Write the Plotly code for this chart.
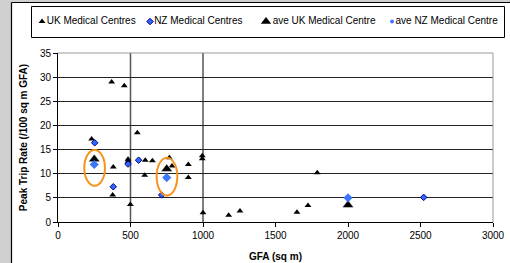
import plotly.graph_objects as go

# ---- data ----
uk_gfa = [232, 253, 370, 457, 547, 381, 377, 499, 483, 483, 602, 651, 598, 768, 786, 899, 899, 995, 995, 1000, 1177, 1255, 1648, 1724, 1788]
uk_rate = [17.2, 13.2, 29.0, 28.2, 18.5, 11.4, 5.6, 3.6, 13.0, 12.6, 12.8, 12.7, 9.7, 13.3, 11.6, 11.9, 9.2, 13.7, 13.1, 1.9, 1.4, 2.3, 2.0, 3.4, 10.2]

nz_gfa = [253, 381, 483, 556, 715, 2522]
nz_rate = [16.4, 7.3, 12.0, 12.8, 5.6, 5.1]

ave_uk_gfa = [250, 750, 2000]
ave_uk_rate = [13.0, 11.0, 3.5]

ave_nz_gfa = [250, 750, 2000]
ave_nz_rate = [11.9, 9.2, 5.0]

series_names = ["UK Medical Centres", "NZ Medical Centres", "ave UK Medical Centre", "ave NZ Medical Centre"]

x_ticks = [0, 500, 1000, 1500, 2000, 2500, 3000]
y_ticks = [0, 5, 10, 15, 20, 25, 30, 35]

divider_x = [500, 1000]
# highlight ellipses: (x0, x1, y0, y1)
highlights = [(181, 324, 7.5, 14.9), (680, 823, 5.5, 13.3)]

FONT = "Arial, Liberation Sans, sans-serif"
W, H = 510, 263


def px(xp):
    return xp / W


def py(yp):
    return 1 - yp / H


# plot area in pixels
PL, PR, PT, PB = 58, 493, 53, 222
# legend box in pixels
LL, LR, LT, LB = 31, 504, 6, 37

styles = [
    dict(symbol="triangle-up", size=6, color="black"),
    dict(symbol="diamond", size=5, color="#3366FF", line=dict(color="#000080", width=1)),
    dict(symbol="triangle-up", size=10, color="black", line=dict(color="white", width=0.5)),
    dict(symbol="diamond", size=7, color="#3C78FF"),
]
legend_styles = [
    dict(symbol="triangle-up", size=6, color="black"),
    dict(symbol="diamond", size=5, color="#3366FF", line=dict(color="#000080", width=1)),
    dict(symbol="triangle-up", size=9, color="black"),
    dict(symbol="circle", size=4, color="#3C78FF"),
]
legend_pos = [42, 150, 266, 392]  # marker centres (pixel), layout only

fig = go.Figure()
for name, xs, ys, st in zip(series_names, [uk_gfa, nz_gfa, ave_uk_gfa, ave_nz_gfa],
                            [uk_rate, nz_rate, ave_uk_rate, ave_nz_rate], styles):
    fig.add_trace(go.Scatter(x=xs, y=ys, mode="markers", name=name, marker=st, showlegend=False))

# legend entries drawn on a helper axis spanning the legend box (pixel units)
for name, lp, st in zip(series_names, legend_pos, legend_styles):
    fig.add_trace(go.Scatter(x=[lp - LL], y=[0.5], mode="markers+text", text=[name],
                             textposition="middle right", textfont=dict(size=10, family=FONT, color="black"),
                             marker=st, xaxis="x2", yaxis="y2", showlegend=False, hoverinfo="skip",
                             cliponaxis=False))

shapes = []
# outer frame: gray strips and black border
shapes.append(dict(type="rect", xref="paper", yref="paper", x0=0, x1=px(11),
                   y0=0, y1=1, fillcolor="#D0D0D0", line=dict(width=0), layer="below"))
shapes.append(dict(type="rect", xref="paper", yref="paper", x0=0, x1=1,
                   y0=py(2), y1=1, fillcolor="#D0D0D0", line=dict(width=0), layer="below"))
shapes.append(dict(type="line", xref="paper", yref="paper", x0=px(11.5), x1=px(11.5),
                   y0=0, y1=py(2.5), line=dict(color="black", width=1.2)))
shapes.append(dict(type="line", xref="paper", yref="paper", x0=px(11.5), x1=1,
                   y0=py(2.5), y1=py(2.5), line=dict(color="black", width=1.2)))
# legend box
shapes.append(dict(type="rect", xref="paper", yref="paper", x0=px(LL + 0.5), x1=px(LR + 0.5),
                   y0=py(LB + 0.5), y1=py(LT + 0.5), line=dict(color="black", width=1),
                   fillcolor="rgba(0,0,0,0)"))
# plot area gray top/right border
shapes.append(dict(type="line", xref="paper", yref="paper", x0=px(PR), x1=px(PR),
                   y0=py(PB), y1=py(PT), line=dict(color="#999999", width=1)))
shapes.append(dict(type="line", xref="paper", yref="paper", x0=px(PL), x1=px(PR),
                   y0=py(PT), y1=py(PT), line=dict(color="#999999", width=1)))
for xv in divider_x:
    shapes.append(dict(type="line", xref="x", yref="y", x0=xv, x1=xv, y0=0, y1=35,
                       line=dict(color="#555555", width=1.5), layer="below"))
for (x0, x1, y0, y1) in highlights:
    shapes.append(dict(type="circle", xref="x", yref="y", x0=x0, x1=x1, y0=y0, y1=y1,
                       line=dict(color="#F7941D", width=2)))

fig.update_layout(
    width=W, height=H,
    margin=dict(l=0, r=0, t=0, b=0, pad=0, autoexpand=False),
    paper_bgcolor="white", plot_bgcolor="white",
    font=dict(family=FONT, size=10, color="black"),
    shapes=shapes,
    showlegend=False,
    xaxis=dict(domain=[px(PL), px(PR)], range=[0, 3000], tickvals=x_ticks, showgrid=False, zeroline=False,
               showline=True, linecolor="black", linewidth=1, mirror=False,
               ticks="outside", ticklen=4, tickcolor="black", automargin=False,
               tickfont=dict(size=10),
               title=dict(text="<b>GFA (sq m)</b>", font=dict(size=10), standoff=12)),
    yaxis=dict(domain=[py(PB), py(PT)], range=[0, 35], tickvals=y_ticks, showgrid=True,
               gridcolor="#222222", gridwidth=1, automargin=False,
               zeroline=False, showline=True, linecolor="black", linewidth=1,
               ticks="outside", ticklen=4, tickcolor="black",
               tickfont=dict(size=10),
               title=dict(text="<b>Peak Trip Rate (/100 sq m GFA)</b>", font=dict(size=10), standoff=10)),
    xaxis2=dict(domain=[px(LL), px(LR)], range=[0, LR - LL], visible=False, fixedrange=True),
    yaxis2=dict(domain=[py(LB), py(LT)], range=[0, 1], visible=False, fixedrange=True, anchor="x2"),
)
fig.update_layout(xaxis2_anchor="y2")

fig.write_html("out.html", config={"displayModeBar": False},
               post_script="document.body.style.margin='0';")
